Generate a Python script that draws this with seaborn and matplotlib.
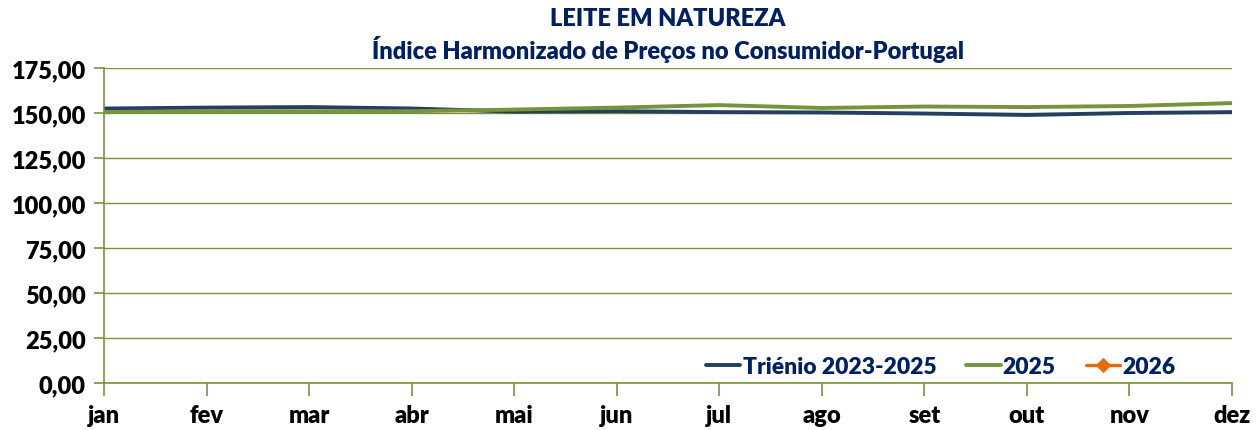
import numpy as np
import pandas as pd
import matplotlib
matplotlib.use("Agg")
import matplotlib.pyplot as plt
import seaborn as sns

meses = ["jan", "fev", "mar", "abr", "mai", "jun", "jul", "ago", "set", "out", "nov", "dez"]
trienio = [152.5, 153.0, 153.3, 152.5, 150.8, 151.0, 150.5, 150.3, 149.7, 148.9, 150.0, 150.5]
ano_2025 = [150.5, 151.0, 151.0, 151.0, 151.9, 153.0, 154.4, 152.8, 153.6, 153.3, 153.9, 155.5]
ano_2026 = [np.nan] * 12

sns.set_style("white")
plt.rcParams["font.family"] = ["Lato", "DejaVu Sans"]

navy = "#002060"
olive = "#77933C"

df = pd.DataFrame({"mes": meses, "Triénio 2023-2025": trienio, "2025": ano_2025, "2026": ano_2026})
df["x"] = range(12)

fig = plt.figure(figsize=(12.56, 4.31), dpi=100)
ax = fig.add_axes([104 / 1256, 47 / 431, 1128 / 1256, 315 / 431])

sns.lineplot(data=df, x="x", y="Triénio 2023-2025", ax=ax, color="#243F60", linewidth=2.8, label="Triénio 2023-2025")
sns.lineplot(data=df, x="x", y="2025", ax=ax, color="#77933C", linewidth=2.8, label="2025")
sns.lineplot(data=df, x="x", y="2026", ax=ax, color="#E36C09", linewidth=2.4, marker="D", markersize=7,
             markeredgecolor="#E36C09", label="2026")

ax.set_xlim(0, 11)
ax.set_ylim(0, 175)
ax.set_yticks(np.arange(0, 176, 25))
ax.set_yticklabels([f"{v:.2f}".replace(".", ",") for v in np.arange(0, 176, 25)])
ax.set_xticks(range(12))
ax.set_xticklabels(meses)
ax.set_xlabel("")
ax.set_ylabel("")

ax.yaxis.grid(True, color=olive, linewidth=1.0)
ax.set_axisbelow(True)
for s in ["top", "right"]:
    ax.spines[s].set_visible(False)
for s in ["left", "bottom"]:
    ax.spines[s].set_color(olive)
    ax.spines[s].set_linewidth(1.2)

ax.tick_params(axis="y", which="both", left=True, length=7, width=1.2, color=olive, labelsize=17, pad=6)
ax.tick_params(axis="x", which="both", bottom=True, length=9, width=1.2, color=olive, labelsize=17, pad=6)
for lbl in ax.get_xticklabels() + ax.get_yticklabels():
    lbl.set_fontweight("heavy")
    lbl.set_color("black")

leg = ax.legend(loc="lower right", ncol=3, frameon=False, fontsize=16.5, handlelength=1.5,
                handletextpad=0.1, columnspacing=1.3, borderaxespad=0.2,
                bbox_to_anchor=(0.962, -0.025))
for t in leg.get_texts():
    t.set_color(navy)
    t.set_fontweight("heavy")

cx = (104 + 1232) / 2 / 1256
fig.text(cx, 0.955, "LEITE EM NATUREZA", ha="center", va="center", fontsize=17, fontweight="heavy", color=navy)
fig.text(cx, 0.885, "Índice Harmonizado de Preços no Consumidor-Portugal", ha="center", va="center",
         fontsize=17, fontweight="heavy", color=navy)

fig.savefig("out.png", dpi=100)
